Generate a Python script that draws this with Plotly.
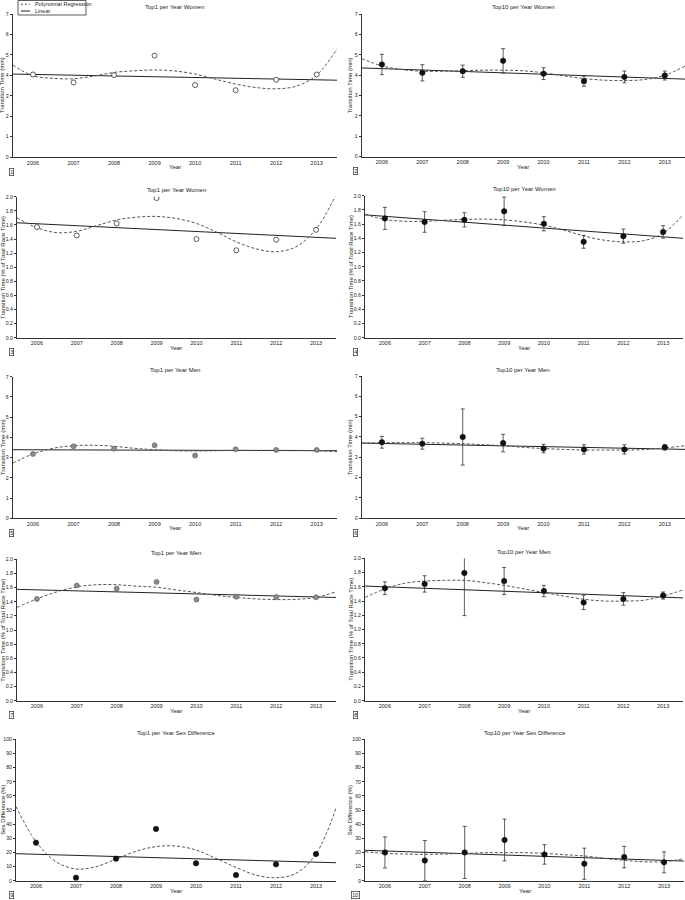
import plotly.graph_objects as go

# figure size in px, used to turn pixel positions into paper coordinates
W, H = 685, 900

years = [2006, 2007, 2008, 2009, 2010, 2011, 2012, 2013]
fit_years = [2005.5, 2006, 2006.5, 2007, 2007.5, 2008, 2008.5, 2009, 2009.5,
             2010, 2010.5, 2011, 2011.5, 2012, 2012.5, 2013, 2013.5]
lin_years = [2005.5, 2013.5]

# 1 - Top1 per Year Women (min)
top1_w_min = [4.04, 3.65, 4.01, 4.96, 3.52, 3.27, 3.78, 4.04]
top1_w_min_lin = [4.06, 3.76]
top1_w_min_poly = [4.50, 3.98, 3.85, 3.83, 3.96, 4.14, 4.22, 4.26, 4.21,
                   4.06, 3.81, 3.57, 3.40, 3.34, 3.47, 4.01, 5.29]

# 2 - Top10 per Year Women (min)
top10_w_min = [4.52, 4.11, 4.19, 4.70, 4.07, 3.70, 3.91, 3.98]
top10_w_min_sd = [0.50, 0.40, 0.30, 0.60, 0.29, 0.25, 0.29, 0.22]
top10_w_min_lin = [4.35, 3.80]
top10_w_min_poly = [4.81, 4.45, 4.27, 4.19, 4.19, 4.21, 4.24, 4.24, 4.21,
                    4.11, 3.96, 3.83, 3.75, 3.73, 3.78, 3.99, 4.44]

# 3 - Top1 per Year Women (% of race time)
top1_w_pct = [1.57, 1.45, 1.62, 1.98, 1.40, 1.24, 1.39, 1.53]
top1_w_pct_lin = [1.63, 1.41]
top1_w_pct_poly = [1.70, 1.56, 1.49, 1.51, 1.59, 1.67, 1.71, 1.72, 1.69,
                   1.62, 1.50, 1.36, 1.26, 1.22, 1.29, 1.54, 2.03]

# 4 - Top10 per Year Women (% of race time)
top10_w_pct = [1.68, 1.63, 1.66, 1.78, 1.605, 1.35, 1.43, 1.49]
top10_w_pct_sd = [0.155, 0.145, 0.10, 0.20, 0.10, 0.09, 0.10, 0.088]
top10_w_pct_lin = [1.73, 1.40]
top10_w_pct_poly = [1.74, 1.665, 1.64, 1.64, 1.655, 1.665, 1.67, 1.66, 1.63,
                    1.585, 1.515, 1.435, 1.375, 1.35, 1.365, 1.47, 1.73]

# 5 - Top1 per Year Men (min)
top1_m_min = [3.18, 3.56, 3.44, 3.61, 3.10, 3.41, 3.38, 3.38]
top1_m_min_lin = [3.39, 3.34]
top1_m_min_poly = [2.72, 3.18, 3.46, 3.59, 3.61, 3.56, 3.46, 3.39, 3.34,
                   3.33, 3.34, 3.36, 3.36, 3.36, 3.36, 3.34, 3.29]

# 6 - Top10 per Year Men (min)
top10_m_min = [3.74, 3.67, 4.00, 3.70, 3.43, 3.39, 3.39, 3.49]
top10_m_min_sd = [0.29, 0.27, 1.38, 0.43, 0.21, 0.23, 0.23, 0.13]
top10_m_min_lin = [3.70, 3.39]
top10_m_min_poly = [3.70, 3.72, 3.72, 3.72, 3.70, 3.67, 3.62, 3.57, 3.49,
                    3.43, 3.39, 3.36, 3.36, 3.36, 3.38, 3.46, 3.57]

# 7 - Top1 per Year Men (% of race time)
top1_m_pct = [1.44, 1.63, 1.585, 1.68, 1.43, 1.47, 1.467, 1.462]
top1_m_pct_lin = [1.575, 1.46]
top1_m_pct_poly = [1.32, 1.44, 1.54, 1.61, 1.64, 1.64, 1.62, 1.604, 1.566,
                   1.53, 1.49, 1.46, 1.44, 1.43, 1.434, 1.462, 1.54]

# 8 - Top10 per Year Men (% of race time)
top10_m_pct = [1.58, 1.64, 1.795, 1.68, 1.54, 1.38, 1.43, 1.477]
top10_m_pct_sd = [0.09, 0.115, 0.60, 0.19, 0.08, 0.10, 0.088, 0.05]
top10_m_pct_lin = [1.61, 1.444]
top10_m_pct_poly = [1.45, 1.57, 1.65, 1.68, 1.69, 1.69, 1.66, 1.62, 1.57,
                    1.52, 1.47, 1.425, 1.40, 1.40, 1.41, 1.47, 1.556]

# 9 - Top1 per Year Sex Difference (%)
top1_sexdiff = [26.9, 2.1, 15.6, 36.6, 12.3, 4.0, 11.6, 18.9]
top1_sexdiff_lin = [19.1, 12.7]
top1_sexdiff_poly = [52.4, 27.6, 13.4, 8.3, 9.9, 15.3, 20.8, 24.1, 24.5,
                     21.7, 15.8, 9.4, 4.0, 2.1, 5.2, 18.9, 51.2]

# 10 - Top10 per Year Sex Difference (%)
top10_sexdiff = [20.0, 14.2, 20.0, 28.8, 18.6, 12.0, 16.7, 13.0]
top10_sexdiff_sd = [11.0, 14.2, 18.4, 14.8, 6.9, 11.0, 7.6, 7.4]
top10_sexdiff_lin = [21.5, 13.9]
top10_sexdiff_poly = [20.5, 19.3, 18.9, 18.6, 18.9, 19.3, 19.8, 19.8, 19.8,
                      19.3, 18.4, 17.5, 15.8, 14.4, 13.4, 13.4, 15.6]

MIN_TITLE = 'Transition Time (min)'
PCT_TITLE = 'Transition Time (% of Total Race Time)'
SEX_TITLE = 'Sex Difference (%)'

# marker looks
HOLLOW = dict(size=5, color='white', line=dict(color='#333', width=0.8))
GREY = dict(size=5, color='#8c8c8c', line=dict(color='#555', width=0.6))
BLACK = dict(size=5.5, color='#111', line=dict(color='#111', width=0.5))

# panel layout: pixel box (left, right, top, bottom) of each plot area
panels = [
    dict(title='Top1 per Year Women', y=top1_w_min, sd=None, lin=top1_w_min_lin, poly=top1_w_min_poly,
         ymax=7, dtick=1, fmt='d', ytitle=MIN_TITLE, marker=HOLLOW, box=(12.7, 337, 14, 157)),
    dict(title='Top10 per Year Women', y=top10_w_min, sd=top10_w_min_sd, lin=top10_w_min_lin, poly=top10_w_min_poly,
         ymax=7, dtick=1, fmt='d', ytitle=MIN_TITLE, marker=BLACK, box=(361.7, 685, 14, 156.5)),
    dict(title='Top1 per Year Women', y=top1_w_pct, sd=None, lin=top1_w_pct_lin, poly=top1_w_pct_poly,
         ymax=2, dtick=0.2, fmt='.1f', ytitle=PCT_TITLE, marker=HOLLOW, box=(17, 336, 196.7, 337.7)),
    dict(title='Top10 per Year Women', y=top10_w_pct, sd=top10_w_pct_sd, lin=top10_w_pct_lin, poly=top10_w_pct_poly,
         ymax=2, dtick=0.2, fmt='.1f', ytitle=PCT_TITLE, marker=BLACK, box=(365, 683, 195.7, 337.7)),
    dict(title='Top1 per Year Men', y=top1_m_min, sd=None, lin=top1_m_min_lin, poly=top1_m_min_poly,
         ymax=7, dtick=1, fmt='d', ytitle=MIN_TITLE, marker=GREY, box=(12.7, 337, 376.7, 518.3)),
    dict(title='Top10 per Year Men', y=top10_m_min, sd=top10_m_min_sd, lin=top10_m_min_lin, poly=top10_m_min_poly,
         ymax=7, dtick=1, fmt='d', ytitle=MIN_TITLE, marker=BLACK, box=(361.7, 685, 376, 518.3)),
    dict(title='Top1 per Year Men', y=top1_m_pct, sd=None, lin=top1_m_pct_lin, poly=top1_m_pct_poly,
         ymax=2, dtick=0.2, fmt='.1f', ytitle=PCT_TITLE, marker=GREY, box=(17, 336, 559.3, 700.7)),
    dict(title='Top10 per Year Men', y=top10_m_pct, sd=top10_m_pct_sd, lin=top10_m_pct_lin, poly=top10_m_pct_poly,
         ymax=2, dtick=0.2, fmt='.1f', ytitle=PCT_TITLE, marker=BLACK, box=(365, 683, 558.3, 700.7)),
    dict(title='Top1 per Year Sex Difference', y=top1_sexdiff, sd=None, lin=top1_sexdiff_lin, poly=top1_sexdiff_poly,
         ymax=100, dtick=10, fmt='d', ytitle=SEX_TITLE, marker=BLACK, box=(16, 336, 739.3, 880.7)),
    dict(title='Top10 per Year Sex Difference', y=top10_sexdiff, sd=top10_sexdiff_sd, lin=top10_sexdiff_lin, poly=top10_sexdiff_poly,
         ymax=100, dtick=10, fmt='d', ytitle=SEX_TITLE, marker=BLACK, box=(365, 684, 739.3, 880.7)),
]


def px(x):
    return x / W


def py(y):
    return 1 - y / H


FONT = 'Arial, Liberation Sans, sans-serif'
TXT = '#222'

fig = go.Figure()
layout = {}
annotations = []

for i, p in enumerate(panels, start=1):
    xa = 'x' if i == 1 else f'x{i}'
    ya = 'y' if i == 1 else f'y{i}'
    left, right, top, bottom = p['box']

    # linear fit
    fig.add_trace(go.Scatter(x=lin_years, y=p['lin'], mode='lines', xaxis=xa, yaxis=ya,
                             line=dict(color='#222', width=1), showlegend=False,
                             hoverinfo='skip'))
    # polynomial regression
    fig.add_trace(go.Scatter(x=fit_years, y=p['poly'], mode='lines', xaxis=xa, yaxis=ya,
                             line=dict(color='#555', width=1, dash='3px,2px', shape='spline'),
                             showlegend=False, hoverinfo='skip'))
    # data points
    err = None
    if p['sd'] is not None:
        err = dict(type='data', array=p['sd'], visible=True, color='#333',
                   thickness=0.8, width=2)
    fig.add_trace(go.Scatter(x=years, y=p['y'], mode='markers', xaxis=xa, yaxis=ya,
                             marker=p['marker'], error_y=err, showlegend=False))

    xkey = 'xaxis' if i == 1 else f'xaxis{i}'
    ykey = 'yaxis' if i == 1 else f'yaxis{i}'
    layout[xkey] = dict(domain=[px(left), px(right)], anchor=ya, range=[2005.5, 2013.5],
                        tickvals=years, ticktext=[str(v) for v in years],
                        showline=True, linecolor='#333', linewidth=1, ticks='',
                        showgrid=False, zeroline=False, automargin=False,
                        tickfont=dict(size=5.5, color=TXT, family=FONT))
    layout[ykey] = dict(domain=[py(bottom), py(top)], anchor=xa, range=[0, p['ymax']],
                        dtick=p['dtick'], tickformat=p['fmt'], ticks='outside',
                        ticklen=2, tickwidth=0.8, tickcolor='#333',
                        showline=True, linecolor='#333', linewidth=1,
                        showgrid=False, zeroline=False, automargin=False,
                        tickfont=dict(size=5.2, color=TXT, family=FONT))

    cx = (left + right) / 2
    # title
    annotations.append(dict(text=p['title'], x=px(cx), y=py(top - 6.5), xref='paper', yref='paper',
                            showarrow=False, xanchor='center', yanchor='middle',
                            font=dict(size=6, color=TXT, family=FONT)))
    # x title
    annotations.append(dict(text='Year', x=px(cx), y=py(bottom + 10), xref='paper', yref='paper',
                            showarrow=False, xanchor='center', yanchor='middle',
                            font=dict(size=6, color=TXT, family=FONT)))
    # y title
    tx = 2.8 if left < 100 else 350.3
    annotations.append(dict(text=p['ytitle'], x=px(tx), y=py((top + bottom) / 2),
                            xref='paper', yref='paper', showarrow=False, textangle=-90,
                            xanchor='center', yanchor='middle',
                            font=dict(size=6, color=TXT, family=FONT)))
    # panel number box
    nx = 11 if left < 100 else 355.5
    annotations.append(dict(text=str(i), x=px(nx), y=py(bottom + 14.5), xref='paper', yref='paper',
                            showarrow=False, xanchor='center', yanchor='middle',
                            bordercolor='#333', borderwidth=0.7, borderpad=0.5,
                            font=dict(size=5.5, color=TXT, family=FONT)))

# legend drawn by hand so it stays as small as the original
shapes = [
    dict(type='rect', xref='paper', yref='paper', x0=px(18), x1=px(86), y0=py(15), y1=py(0.5),
         line=dict(color='#333', width=0.8), fillcolor='white'),
    dict(type='line', xref='paper', yref='paper', x0=px(21), x1=px(30), y0=py(4.3), y1=py(4.3),
         line=dict(color='#555', width=1, dash='2px,2px')),
    dict(type='line', xref='paper', yref='paper', x0=px(21), x1=px(30), y0=py(11), y1=py(11),
         line=dict(color='#222', width=1)),
]
for label, ly in [('Polynomial Regression', 4.3), ('Linear', 11)]:
    annotations.append(dict(text=label, x=px(33), y=py(ly), xref='paper', yref='paper',
                            showarrow=False, xanchor='left', yanchor='middle',
                            font=dict(size=5.5, color=TXT, family=FONT)))

fig.update_layout(
    width=W, height=H,
    margin=dict(l=0, r=0, t=0, b=0),
    paper_bgcolor='white', plot_bgcolor='white',
    showlegend=False,
    annotations=annotations,
    shapes=shapes,
    font=dict(family=FONT, color=TXT),
    **layout,
)

# the page body has a default 8px margin; drop it so the figure sits at 0,0
fig.write_html("out.html", config={'displayModeBar': False},
               post_script="document.body.style.margin='0';")
